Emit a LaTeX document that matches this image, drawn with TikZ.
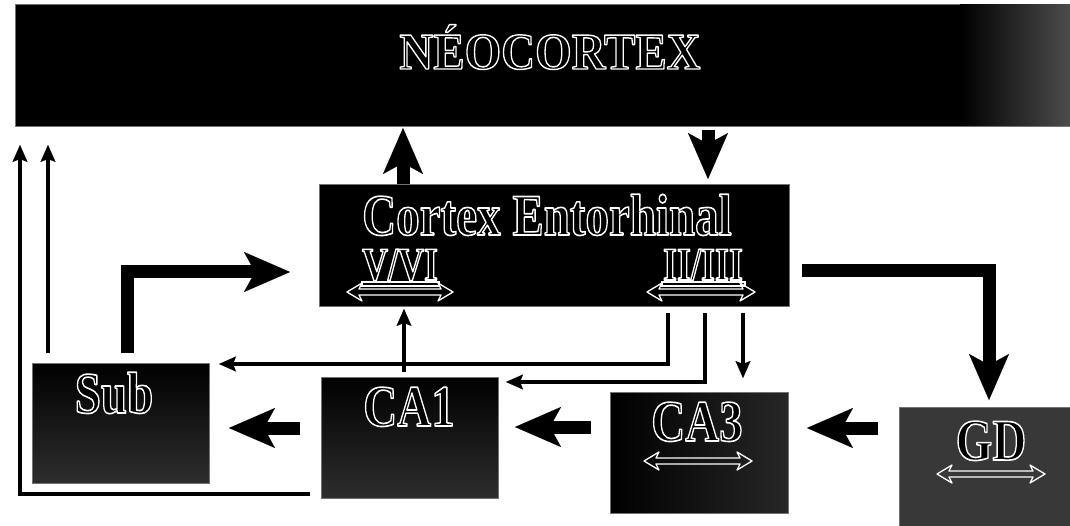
\documentclass[tikz,border=0pt]{standalone}
\usepackage{fontspec}
\setmainfont{Liberation Serif}
\usetikzlibrary{arrows.meta}
\newcommand{\hol}[2][1.25]{\scalebox{1}[#1]{\special{pdf:code 2 Tr 1.3 w 1 1 1 RG 1 j}#2\special{pdf:code 0 Tr 0.4 w 0 0 0 RG 0 j}}}
\tikzset{
  box/.style={draw=black!55, line width=0.6pt, fill=black, anchor=north west, inner sep=0pt, outer sep=0pt},
  lab/.style={anchor=base, inner sep=0pt, text=black, font=\fontsize{47}{50}\selectfont\bfseries},
  smlab/.style={anchor=base, inner sep=0pt, text=black, font=\fontsize{36}{40}\selectfont\bfseries},
  thickar/.style={line width=13pt, -{Stealth[length=46pt,width=40pt,inset=11pt,line width=0.01pt]}},
  thinar/.style={line width=4.5pt, -{Stealth[length=17pt,width=15pt,inset=3pt,line width=0.01pt]}},
  dblar/.style={draw=white, line width=1.3pt, line join=round},
  ulbox/.style={draw=white, line width=1.2pt}
}
\newcommand{\dbla}[3]{%
  \draw[dblar] ({#1},{#3}) -- ++(15,-9) -- ++(-3,6) -- ({#2-12},{#3-3}) -- ++(-3,-6)
    -- ({#2},{#3}) -- ({#2-15},{#3+9}) -- ++(3,-6) -- ({#1+12},{#3+3}) -- ++(3,6) -- cycle;}
\begin{document}
\begin{tikzpicture}[x=1pt,y=-1pt]
\useasboundingbox (0,0) rectangle (1070,526);
\fill[white] (0,0) rectangle (1070,526);
% boxes
\node[box, minimum width=1060pt, minimum height=122pt] (neo) at (15,4) {};
\shade[left color=black, right color=black!70] (960,4.3) rectangle (1070,125.7);
\node[box, minimum width=470pt, minimum height=122pt] (ent) at (319,184) {};
\node[box, minimum width=177pt, minimum height=120pt, top color=black, bottom color=black!82] (sub) at (32,363) {};
\node[box, minimum width=177pt, minimum height=121pt, top color=black, bottom color=black!82] (ca1) at (321,377) {};
\node[box, minimum width=178pt, minimum height=121pt, left color=black, right color=black!85] (ca3) at (610,392) {};
\node[box, minimum width=175pt, minimum height=125pt, fill=black!78] (gd) at (899,407) {};
% labels
\node[lab] (neot) at (550,69) {\hol[1.1]{NÉOCORTEX}};
\node[lab] (entt) at (547,235) {\hol{Cortex Entorhinal}};
\node[smlab] (vvi) at (400,280) {\hol[1.3]{V/VI}};
\node[smlab] (iiii) at (703,280) {\hol[1.3]{II/III}};
\node[lab] (subt) at (114,413) {\hol{Sub}};
\node[lab] (ca1t) at (409,426) {\hol{CA1}};
\node[lab] (ca3t) at (697,441) {\hol{CA3}};
\node[lab] (gdt) at (991,460) {\hol{GD}};
% underlines and double arrows
\draw[ulbox] (362,282) rectangle (439,286);
\draw[ulbox] (662,282) rectangle (745,286);
\dbla{347}{453}{292}
\dbla{647}{755}{292}
\dbla{644}{752}{461}
\dbla{937}{1045}{474}
% connector end points
\coordinate (upS) at (403,184);   \coordinate (upE) at (403,128);
\coordinate (dnS) at (708,130);   \coordinate (dnE) at (708,179);
\coordinate (subS) at (127,353);  \coordinate (entW) at (290,272);
\coordinate (entE) at (802,271);  \coordinate (gdN) at (989,400);
\coordinate (gdW) at (878,428);   \coordinate (ca3E) at (807,428);
\coordinate (ca3W) at (591,427);  \coordinate (ca1E) at (515,427);
\coordinate (ca1W) at (300,428);  \coordinate (subE) at (229,428);
\coordinate (l1) at (668,313);    \coordinate (l1E) at (219,364);
\coordinate (l2) at (705,313);    \coordinate (l2E) at (506,382);
\coordinate (l3) at (743,313);    \coordinate (l3E) at (743,378);
\coordinate (caUp) at (404,372);  \coordinate (vviB) at (404,309);
\coordinate (subN) at (48,353);   \coordinate (neoA) at (48,145);
\coordinate (ca1L) at (310,494);  \coordinate (neoB) at (20,145);
% thick arrows
\draw[thickar] (upS) -- (upE);
\draw[thickar] (dnS) -- (dnE);
\draw[thickar] (subS) |- (entW);
\draw[thickar] (entE) -| (gdN);
\draw[thickar] (gdW) -- (ca3E);
\draw[thickar] (ca3W) -- (ca1E);
\draw[thickar] (ca1W) -- (subE);
% thin arrows
\draw[thinar] (l1) |- (l1E);
\draw[thinar] (l2) |- (l2E);
\draw[thinar] (l3) -- (l3E);
\draw[thinar] (caUp) -- (vviB);
\draw[thinar] (subN) -- (neoA);
\draw[thinar] (ca1L) -| (neoB);
\end{tikzpicture}
\end{document}
